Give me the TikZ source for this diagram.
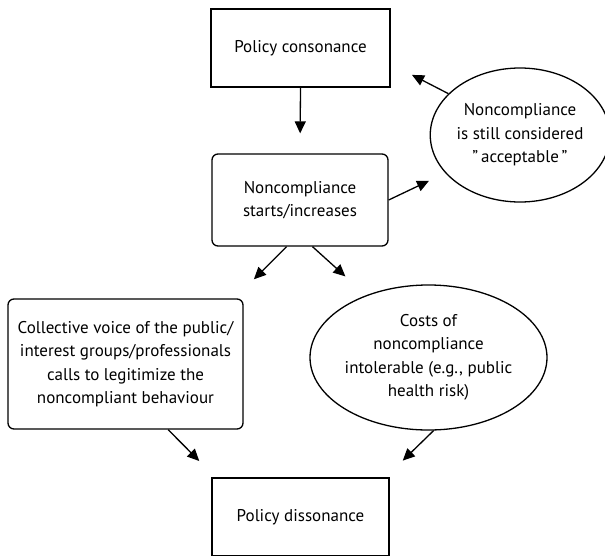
\documentclass[tikz,border=0pt]{standalone}
\usepackage{fontspec}
\setmainfont{PT Sans}
\usetikzlibrary{shapes.geometric,arrows.meta}
\tikzset{
  box/.style={draw, line width=1.3pt, align=center, inner sep=0pt, font=\fontsize{17}{23.5}\selectfont},
  rbox/.style={box, rounded corners=6pt},
  oval/.style={box, ellipse},
  link/.style={-{Triangle[length=12pt,width=11pt]}, line width=1.3pt},
}
\begin{document}
\begin{tikzpicture}[x=1pt,y=1pt]
  \useasboundingbox (0,0) rectangle (605,-555);

  % Stati della politica
  \node[box, minimum width=179pt, minimum height=78pt] (cons) at (300.5,-48) {Policy consonance};
  \node[box, minimum width=177pt, minimum height=78pt] (diss) at (300.5,-517) {Policy dissonance};

  % Passaggi intermedi
  \node[rbox, minimum width=176pt, minimum height=92pt] (noncomp) at (300,-200) {Noncompliance\\starts/increases};
  \node[rbox, minimum width=235pt, minimum height=130pt] (voice) at (125.5,-364)
    {Collective voice of the public/\\interest groups/professionals\\calls to legitimize the\\noncompliant behaviour};
  \node[oval, minimum width=172pt, minimum height=134pt] (acc) at (520,-135)
    {Noncompliance\\is still considered\\ ”\,acceptable\,”};
  \node[oval, minimum width=207pt, minimum height=145pt] (costs) at (428.5,-357.5)
    {Costs of\\noncompliance\\intolerable (e.g., public\\health risk)};

  % Frecce
  \draw[link, shorten >=20pt] (cons.south) -- (noncomp.north);
  \draw[link, shorten >=24pt] (acc.150) -- (cons.-10);
  \draw[link, shorten >=18pt] (noncomp.east) -- (acc.207);
  \draw[link, shorten >=27pt] (noncomp.254) -- (voice.31);
  \draw[link, shorten >=28pt] (noncomp.285) -- (costs.135);
  \draw[link, shorten >=23pt] (voice.-57) -- (diss.155);
  \draw[link, shorten >=24pt] (costs.-86) -- (diss.25);
\end{tikzpicture}
\end{document}
